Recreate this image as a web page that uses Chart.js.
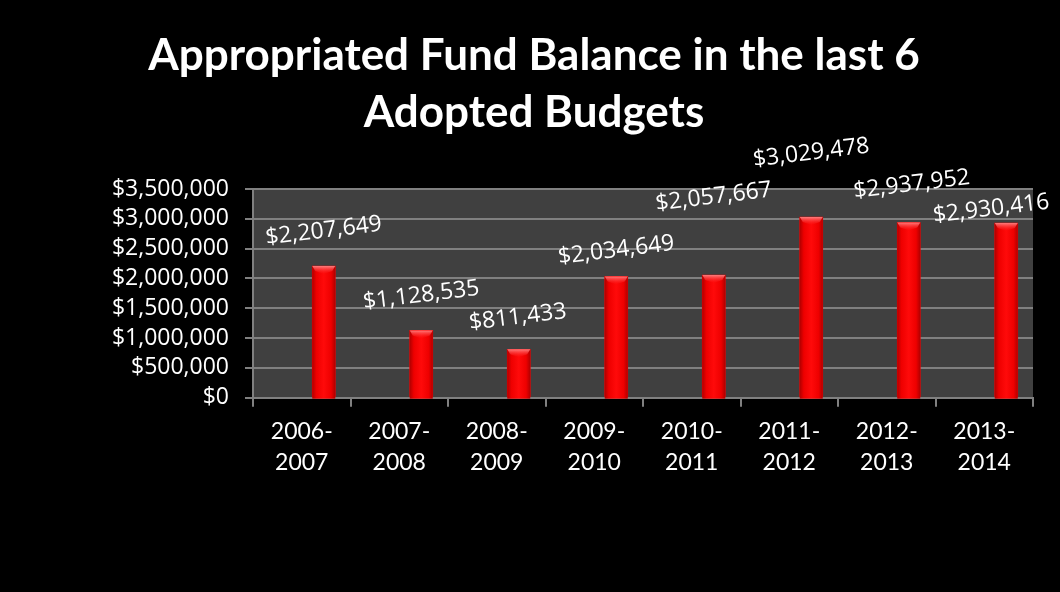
<!DOCTYPE html>
<html>
<head>
<meta charset="utf-8">
<title>Appropriated Fund Balance</title>
<script src="https://cdn.jsdelivr.net/npm/chart.js@4/dist/chart.umd.min.js"></script>
<style>
  html, body { margin: 0; padding: 0; background: #000; }
  #wrap { width: 1060px; height: 592px; }
</style>
</head>
<body>
<div id="wrap"><canvas id="fund-chart" width="1060" height="592"></canvas></div>
<script>
// fiscal years and the fund balance appropriated in each adopted budget
var fiscalYears = [
  ['2006-', '2007'], ['2007-', '2008'], ['2008-', '2009'], ['2009-', '2010'],
  ['2010-', '2011'], ['2011-', '2012'], ['2012-', '2013'], ['2013-', '2014']
];
var fundBalance = [2207649, 1128535, 811433, 2034649, 2057667, 3029478, 2937952, 2930416];

var yMin = 0;
var yMax = 3500000;
var yStep = 500000;

// value labels sit above each column, nudged by hand like the original deck
var labelNudge = [[0, -35], [0, -35], [-1, -32], [0, -26], [0, -78], [0, -64], [3, -38], [-15, -14]];

var BAR_SHIFT = 22;   // columns sit right of the category centre
var BAR_WIDTH = 23;
var GRID = '#808080';
var VALUE_FONT = '"Open Sans", sans-serif';
var VALUE_SIZE = 23;

function money(v) {
  return '$' + Number(v).toLocaleString('en-US');
}

// dark plot area behind the columns
var plotBackground = {
  id: 'plotBackground',
  beforeDraw: function (chart) {
    var a = chart.chartArea, ctx = chart.ctx;
    ctx.save();
    ctx.fillStyle = '#404040';
    ctx.fillRect(a.left, a.top, a.right - a.left, a.bottom - a.top);
    ctx.restore();
  }
};

// shift columns inside their slot, shade them, add the bevelled top and the labels
var columnDecor = {
  id: 'columnDecor',
  beforeDatasetsDraw: function (chart) {
    chart.ctx.save();
    chart.ctx.translate(BAR_SHIFT, 0);
  },
  afterDatasetsDraw: function (chart) {
    var ctx = chart.ctx;
    var meta = chart.getDatasetMeta(0);
    meta.data.forEach(function (bar) {
      var half = bar.width / 2;
      var left = bar.x - half;
      var side = ctx.createLinearGradient(left, 0, left + bar.width, 0);
      side.addColorStop(0, '#b00000');
      side.addColorStop(0.18, '#ee0000');
      side.addColorStop(0.5, '#ff0a0a');
      side.addColorStop(0.82, '#ee0000');
      side.addColorStop(1, '#b00000');
      ctx.fillStyle = side;
      ctx.fillRect(left, bar.y, bar.width, bar.base - bar.y + 2);

      var g = ctx.createLinearGradient(0, bar.y, 0, bar.y + 8);
      g.addColorStop(0, 'rgba(255,130,130,0.95)');
      g.addColorStop(1, 'rgba(255,40,40,0.0)');
      ctx.fillStyle = g;
      ctx.beginPath();
      ctx.moveTo(left, bar.y);
      ctx.lineTo(left + bar.width, bar.y);
      ctx.lineTo(bar.x + half - 3, bar.y + 5);
      ctx.lineTo(bar.x, bar.y + 8);
      ctx.lineTo(left + 3, bar.y + 5);
      ctx.closePath();
      ctx.fill();
    });
    ctx.restore();

    ctx.save();
    ctx.fillStyle = '#ffffff';
    ctx.font = VALUE_SIZE + 'px ' + VALUE_FONT;
    ctx.textAlign = 'center';
    ctx.textBaseline = 'middle';
    meta.data.forEach(function (bar, i) {
      var n = labelNudge[i];
      ctx.save();
      ctx.translate(bar.x + BAR_SHIFT + n[0], bar.y + n[1]);
      ctx.rotate(-7 * Math.PI / 180);
      ctx.fillText(money(fundBalance[i]), 0, 0);
      ctx.restore();
    });
    ctx.restore();
  }
};

var ctx = document.getElementById('fund-chart').getContext('2d');

var fundChart = new Chart(ctx, {
  type: 'bar',
  data: {
    labels: fiscalYears,
    datasets: [{
      label: 'Appropriated Fund Balance',
      data: fundBalance,
      backgroundColor: '#ff0000',
      borderWidth: 0,
      barThickness: BAR_WIDTH
    }]
  },
  options: {
    responsive: false,
    animation: false,
    layout: { padding: { top: 0, left: 35, right: 27, bottom: 0 } },
    plugins: {
      legend: { display: false },
      tooltip: { enabled: false },
      title: {
        display: true,
        text: ['Appropriated Fund Balance in the last 6', 'Adopted Budgets'],
        color: '#ffffff',
        font: { family: 'Lato', weight: 'bold', size: 44, lineHeight: '57px' },
        padding: { top: 27, bottom: 48 }
      }
    },
    scales: {
      x: {
        afterFit: function (scale) { scale.height = 194.3; },
        grid: {
          display: true,
          drawOnChartArea: false,
          drawTicks: true,
          tickLength: 9,
          tickColor: GRID,
          lineWidth: 2,
          offset: true
        },
        border: { display: true, color: GRID, width: 2 },
        ticks: {
          color: '#ffffff',
          padding: 9,
          maxRotation: 0,
          autoSkip: false,
          font: { family: 'Lato', size: 23, lineHeight: '31px' }
        }
      },
      y: {
        min: yMin,
        max: yMax,
        afterFit: function (scale) { scale.width = 218; },
        grid: {
          color: GRID,
          lineWidth: 2,
          drawTicks: true,
          tickLength: 8,
          tickColor: GRID
        },
        border: { display: true, color: GRID, width: 2 },
        ticks: {
          stepSize: yStep,
          autoSkip: false,
          color: '#ffffff',
          padding: 16,
          font: { family: VALUE_FONT, size: VALUE_SIZE, lineHeight: 1 },
          callback: function (v) { return money(v); }
        }
      }
    }
  },
  plugins: [plotBackground, columnDecor]
});
</script>
</body>
</html>
